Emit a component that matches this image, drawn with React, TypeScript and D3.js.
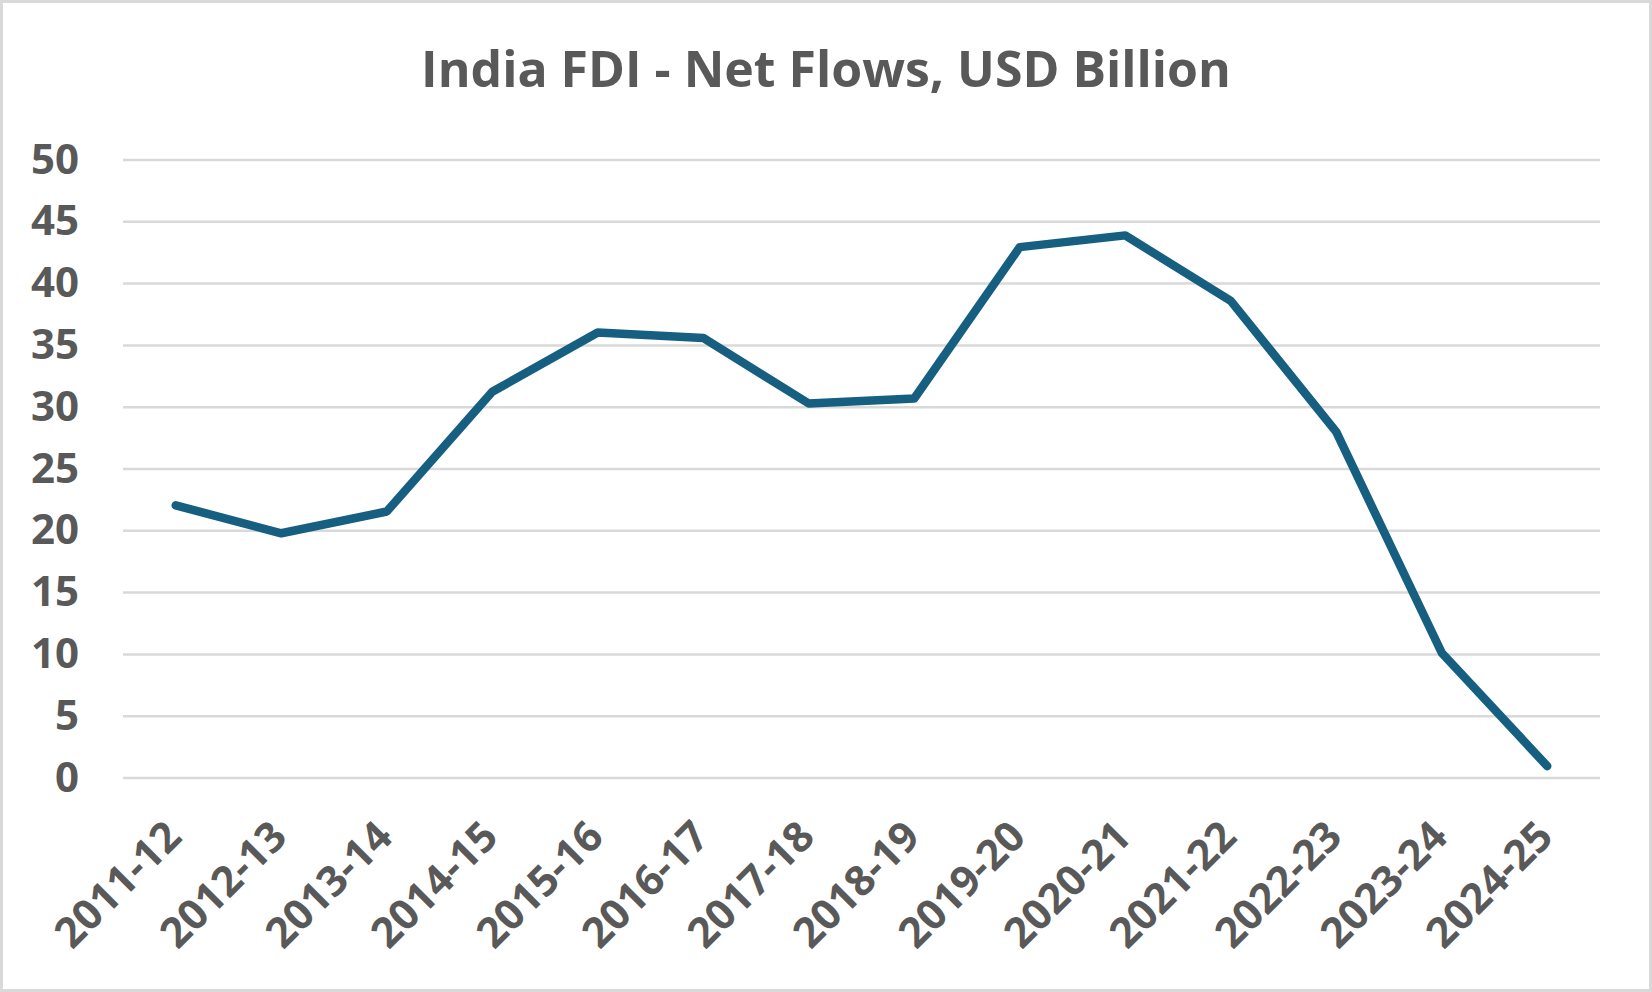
import React, { useEffect, useRef } from 'react';
import * as d3 from 'd3';

const years = [
  '2011-12', '2012-13', '2013-14', '2014-15', '2015-16', '2016-17', '2017-18',
  '2018-19', '2019-20', '2020-21', '2021-22', '2022-23', '2023-24', '2024-25',
];
const netFlows = [22.06, 19.8, 21.56, 31.25, 36.05, 35.6, 30.3, 30.7, 42.95, 43.9, 38.6, 28.0, 10.13, 0.96];
const yTicks = [0, 5, 10, 15, 20, 25, 30, 35, 40, 45, 50];
const title = 'India FDI - Net Flows, USD Billion';

const App: React.FC = () => {
  const svgRef = useRef<SVGSVGElement>(null);

  useEffect(() => {
    document.body.style.margin = '0';
    if (!svgRef.current) return;
    const svg = d3.select(svgRef.current);
    svg.selectAll('*').remove();

    const width = 1652;
    const height = 992;
    const margin = { top: 160, right: 52, bottom: 214, left: 123 };
    const font = '"Open Sans", Roboto, sans-serif';
    const textColor = '#595959';

    svg.attr('width', width).attr('height', height);

    // Chart frame
    svg.append('rect')
      .attr('x', 1.5).attr('y', 1.5)
      .attr('width', width - 3).attr('height', height - 3)
      .attr('fill', '#fff')
      .attr('stroke', '#d9d9d9')
      .attr('stroke-width', 3);

    const x = d3.scaleBand<string>()
      .domain(years)
      .range([margin.left, width - margin.right]);

    const y = d3.scaleLinear()
      .domain([0, 50])
      .range([height - margin.bottom, margin.top]);

    // Title
    svg.append('text')
      .attr('x', 826)
      .attr('y', 87)
      .attr('text-anchor', 'middle')
      .attr('font-family', font)
      .attr('font-weight', 700)
      .attr('font-size', 50)
      .attr('fill', textColor)
      .text(title);

    // Grid lines
    svg.append('g')
      .selectAll('line')
      .data(yTicks)
      .enter()
      .append('line')
      .attr('x1', margin.left)
      .attr('x2', width - margin.right)
      .attr('y1', d => y(d))
      .attr('y2', d => y(d))
      .attr('stroke', '#d9d9d9')
      .attr('stroke-width', 2.5);

    // Y axis labels
    svg.append('g')
      .selectAll('text')
      .data(yTicks)
      .enter()
      .append('text')
      .attr('x', 79)
      .attr('y', d => y(d) + 13.5)
      .attr('text-anchor', 'end')
      .attr('font-family', font)
      .attr('font-weight', 700)
      .attr('font-size', 42)
      .attr('fill', textColor)
      .text(d => d);

    // X axis labels, rotated, ending at the category centre
    const cx = (d: string) => (x(d) || 0) + x.bandwidth() / 2;
    svg.append('g')
      .selectAll('text')
      .data(years)
      .enter()
      .append('text')
      .attr('transform', d => `translate(${cx(d) + 8},${height - margin.bottom + 61}) rotate(-45)`)
      .attr('text-anchor', 'end')
      .attr('font-family', font)
      .attr('font-weight', 700)
      .attr('font-size', 42)
      .attr('fill', textColor)
      .text(d => d);

    // Line
    const line = d3.line<number>()
      .x((_, i) => cx(years[i]))
      .y(d => y(d));

    svg.append('path')
      .datum(netFlows)
      .attr('fill', 'none')
      .attr('stroke', '#165f80')
      .attr('stroke-width', 8.5)
      .attr('stroke-linejoin', 'round')
      .attr('stroke-linecap', 'round')
      .attr('d', line);
  }, []);

  return <svg ref={svgRef} style={{ display: 'block' }}></svg>;
};

export default App;
